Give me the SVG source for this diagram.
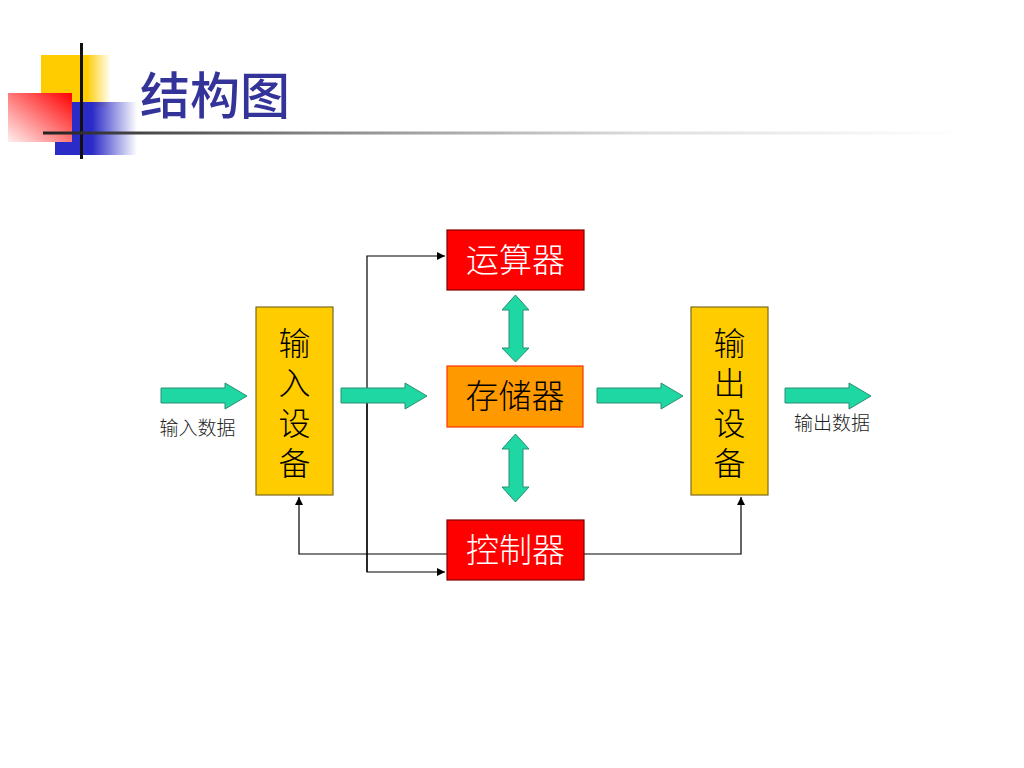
<svg xmlns="http://www.w3.org/2000/svg" width="1024" height="768" viewBox="0 0 1024 768">
<style>
.box{stroke-width:1.2}
.dev{fill:#FFCC00;stroke:#7a6a20}
.red{fill:#FF0000;stroke:#800000}
.mem{fill:#FF9900;stroke:#FF3300}
.t{font-family:"Noto Sans CJK SC","Noto Sans CJK TC",sans-serif;text-anchor:middle}
.big{font-size:33px;font-weight:300}
.vt{font-size:32px;font-weight:300;writing-mode:vertical-rl;letter-spacing:8px}
.wt{fill:#ffffff}
.bk{fill:#000000}
.small{font-size:19px;fill:#222;font-weight:300}
.arr{fill:#1ED7A2;stroke:#2a8f72;stroke-width:1}
.ln{fill:none;stroke:#000;stroke-width:1.2}
</style>
<defs>
<marker id="ah" viewBox="0 0 10 10" refX="10" refY="5" markerWidth="8" markerHeight="8" markerUnits="userSpaceOnUse" orient="auto">
<path d="M0,0 L10,5 L0,10 z" fill="#000"/>
</marker>
<linearGradient id="gy" x1="0" y1="0" x2="1" y2="0">
<stop offset="0" stop-color="#FFCC00"/>
<stop offset="0.65" stop-color="#FFCC00"/>
<stop offset="1" stop-color="#FFCC00" stop-opacity="0"/>
</linearGradient>
<linearGradient id="gb" x1="0" y1="0" x2="1" y2="0">
<stop offset="0" stop-color="#2B2BC8"/>
<stop offset="0.45" stop-color="#2B2BC8"/>
<stop offset="1" stop-color="#2B2BC8" stop-opacity="0"/>
</linearGradient>
<linearGradient id="gr" x1="1" y1="0" x2="0" y2="1">
<stop offset="0" stop-color="#FF0000"/>
<stop offset="1" stop-color="#FFF0F0"/>
</linearGradient>
<linearGradient id="gl" x1="0" y1="0" x2="1" y2="0">
<stop offset="0" stop-color="#222"/>
<stop offset="0.3" stop-color="#888"/>
<stop offset="0.65" stop-color="#ddd"/>
<stop offset="1" stop-color="#fff"/>
</linearGradient>
</defs>
<rect width="1024" height="768" fill="#fff"/>
<g id="decoration">
<rect x="41" y="55" width="70" height="52" fill="url(#gy)"/>
<rect x="55" y="102" width="82" height="53" fill="url(#gb)"/>
<rect x="8" y="93" width="64" height="49" fill="url(#gr)"/>
<rect x="80" y="43" width="3" height="116" fill="#111"/>
<rect x="43" y="131.5" width="920" height="3" fill="url(#gl)"/>
</g>
<g id="title"><text x="215" y="114" class="t" font-size="50" font-weight="500" fill="#333399">结构图</text></g>
<g id="connectors">
<polyline class="ln" points="367,572 367,256 445,256" marker-end="url(#ah)"/>
<polyline class="ln" points="367,400 367,572 445,572" marker-end="url(#ah)"/>
<polyline class="ln" points="447,554 299,554 299,497" marker-end="url(#ah)"/>
<polyline class="ln" points="584,554 741,554 741,497" marker-end="url(#ah)"/>
<path class="arr" d="M161,388 H225 V383 L247,396 L225,409 V403 H161 Z"/>
<path class="arr" d="M341,388 H405 V383 L427,396 L405,409 V403 H341 Z"/>
<path class="arr" d="M597,388 H661 V383 L683,396 L661,409 V403 H597 Z"/>
<path class="arr" d="M785,388 H849 V383 L871,396 L849,409 V403 H785 Z"/>
<path class="arr" d="M515.5,295 L529,310 H523 V348 H529 L515.5,362 L502,348 H509 V310 H502 Z"/>
<path class="arr" d="M515.5,434 L529,449 H523 V487 H529 L515.5,502 L502,487 H509 V449 H502 Z"/>
<text x="197.5" y="435" class="t small">输入数据</text>
<text x="832" y="430" class="t small">输出数据</text>
</g>
<g id="input-device">
<rect class="box dev" x="256" y="307" width="77" height="188"/>
<text class="t vt bk" x="294.5" y="407">输入设备</text>
</g>
<g id="output-device">
<rect class="box dev" x="691" y="307" width="77" height="188"/>
<text class="t vt bk" x="729.5" y="407">输出设备</text>
</g>
<g id="alu">
<rect class="box red" x="447" y="230" width="137" height="60"/>
<text class="t big wt" x="515.5" y="272">运算器</text>
</g>
<g id="memory">
<rect class="box mem" x="447" y="366" width="136" height="61"/>
<text class="t big bk" x="515" y="408">存储器</text>
</g>
<g id="controller">
<rect class="box red" x="447" y="520" width="137" height="60"/>
<text class="t big wt" x="515.5" y="562">控制器</text>
</g>
</svg>
